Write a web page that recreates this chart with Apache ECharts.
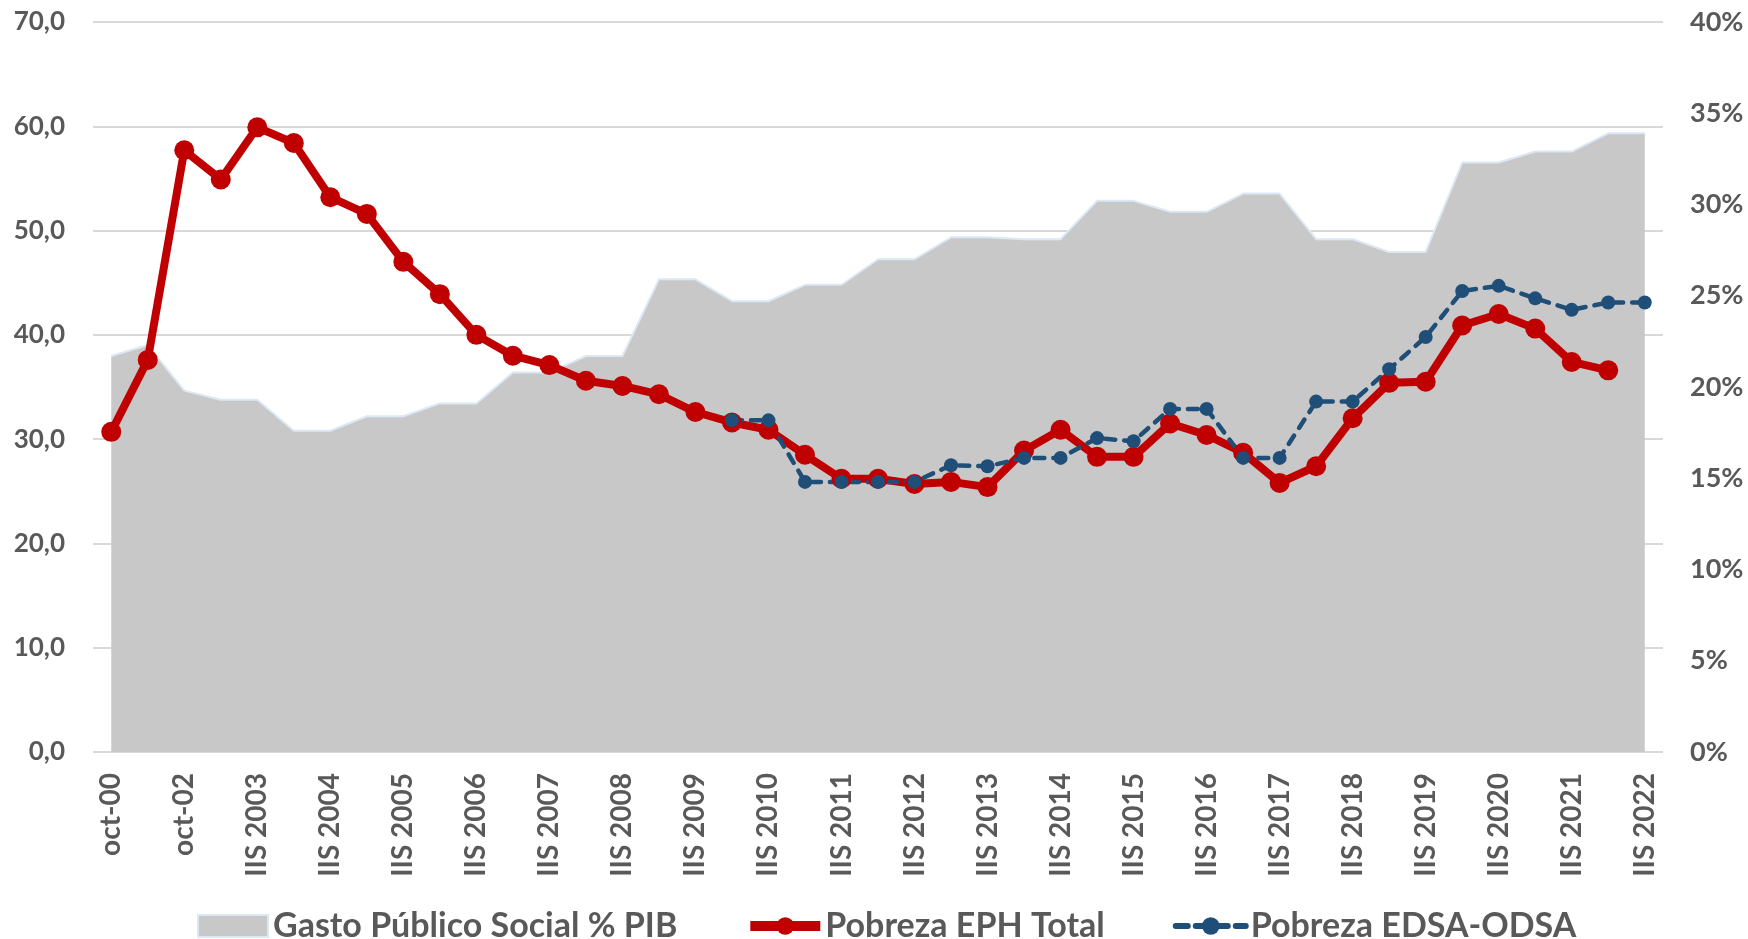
<!DOCTYPE html>
<html>
<head>
<meta charset="utf-8">
<script src="https://cdn.jsdelivr.net/npm/echarts@6/dist/echarts.min.js"></script>
<style>
  html, body { margin: 0; padding: 0; background: #fff; }
  #chart { width: 1748px; height: 939px; }
</style>
</head>
<body>
<div id="chart"></div>
<script>
// categorías: oct-00, oct-01, oct-02, luego IS/IIS por año
const categorias = ['oct-00', 'oct-01', 'oct-02']
for (let y = 2003; y <= 2022; y++) {
  categorias.push('IS ' + y, 'IIS ' + y)
}

// Gasto Público Social % PIB (eje derecho, %)
const gastoSocial = [
  21.7, 22.3, 19.8, 19.3, 19.3, 17.6, 17.6, 18.4, 18.4, 19.1, 19.1,
  20.8, 20.8, 21.7, 21.7, 25.9, 25.9, 24.7, 24.7, 25.6, 25.6,
  27.0, 27.0, 28.2, 28.2, 28.1, 28.1, 30.2, 30.2, 29.6, 29.6,
  30.6, 30.6, 28.1, 28.1, 27.4, 27.4, 32.3, 32.3, 32.9, 32.9, 33.9, 33.9
]

// Pobreza EPH Total (eje izquierdo)
const pobrezaEPH = [
  30.7, 37.6, 57.7, 54.9, 59.9, 58.4, 53.2, 51.6, 47.0, 43.9, 40.0,
  38.0, 37.1, 35.6, 35.1, 34.3, 32.6, 31.6, 30.9, 28.5, 26.2,
  26.2, 25.7, 25.9, 25.4, 28.9, 30.9, 28.3, 28.3, 31.5, 30.4,
  28.7, 25.8, 27.4, 32.0, 35.4, 35.5, 40.9, 42.0, 40.6, 37.4, 36.6, null
]

// Pobreza EDSA-ODSA (eje izquierdo)
const pobrezaEDSA = [
  null, null, null, null, null, null, null, null, null, null, null,
  null, null, null, null, null, null, 31.8, 31.8, 25.9, 25.9,
  25.9, 25.9, 27.5, 27.4, 28.2, 28.2, 30.1, 29.8, 32.9, 32.9,
  28.2, 28.2, 33.6, 33.6, 36.7, 39.8, 44.2, 44.7, 43.5, 42.4, 43.1, 43.1
]

const FONT = 'Lato, "Open Sans", sans-serif'
const GRIS = '#595959'

const chart = echarts.init(document.getElementById('chart'))

const option = {
  animation: false,
  grid: {
    left: 93,
    right: 85,
    top: 22,
    bottom: 187
  },
  legend: {
    left: 192,
    top: 904,
    itemWidth: 70,
    itemHeight: 22,
    itemGap: 68,
    textStyle: {
      fontFamily: FONT,
      fontWeight: 'bold',
      fontSize: 34,
      color: GRIS
    },
    data: [
      { name: 'Gasto Público Social % PIB', icon: 'rect' },
      { name: 'Pobreza EPH Total', lineStyle: { width: 10 } },
      { name: 'Pobreza EDSA-ODSA', lineStyle: { width: 6, type: [12, 8] } }
    ]
  },
  xAxis: {
    type: 'category',
    data: categorias,
    axisLine: { show: false },
    axisTick: { show: false },
    axisLabel: {
      interval: 1,
      rotate: 90,
      margin: 21,
      fontFamily: FONT,
      fontWeight: 'bold',
      fontSize: 28,
      color: GRIS
    }
  },
  yAxis: [
    {
      type: 'value',
      min: 0,
      max: 70,
      interval: 10,
      axisLine: { show: false },
      axisTick: { show: false },
      axisLabel: {
        margin: 28,
        fontFamily: FONT,
        fontWeight: 'bold',
        fontSize: 26,
        color: GRIS,
        formatter: (v) => v.toFixed(1).replace('.', ',')
      },
      splitLine: {
        lineStyle: { color: '#D9D9D9', width: 2 }
      }
    },
    {
      type: 'value',
      min: 0,
      max: 40,
      interval: 5,
      axisLine: { show: false },
      axisTick: { show: false },
      splitLine: { show: false },
      axisLabel: {
        margin: 27,
        fontFamily: FONT,
        fontWeight: 'bold',
        fontSize: 27,
        color: GRIS,
        formatter: '{value}%'
      }
    }
  ],
  series: [
    {
      name: 'Gasto Público Social % PIB',
      type: 'line',
      yAxisIndex: 1,
      data: gastoSocial,
      symbol: 'none',
      itemStyle: { color: '#C8C8C8', borderColor: '#DCE8F5', borderWidth: 1 },
      lineStyle: { color: '#DCE8F5', width: 2 },
      areaStyle: { color: '#C8C8C8', opacity: 1 }
    },
    {
      name: 'Pobreza EPH Total',
      type: 'line',
      yAxisIndex: 0,
      data: pobrezaEPH,
      symbol: 'circle',
      symbolSize: 20,
      itemStyle: { color: '#C00000' },
      lineStyle: { color: '#C00000', width: 8 }
    },
    {
      name: 'Pobreza EDSA-ODSA',
      type: 'line',
      yAxisIndex: 0,
      data: pobrezaEDSA,
      symbol: 'circle',
      symbolSize: 14,
      itemStyle: { color: '#1F4E79' },
      lineStyle: { color: '#1F4E79', width: 4.5, type: [10, 9], cap: 'round' }
    }
  ]
}

chart.setOption(option)
</script>
</body>
</html>
